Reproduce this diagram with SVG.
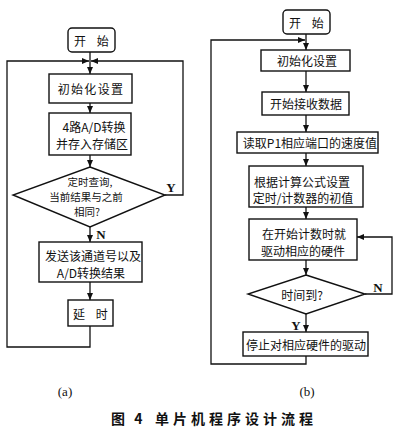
<svg xmlns="http://www.w3.org/2000/svg" width="400" height="432" viewBox="0 0 400 432">
<defs>
<marker id="ah" markerWidth="8" markerHeight="8" refX="7" refY="4" orient="auto" markerUnits="userSpaceOnUse">
<path d="M0,1 L7,4 L0,7 Z" fill="#111"/>
</marker>
</defs>
<style>
.b{fill:#fff;stroke:#111;stroke-width:1.4}
.l{fill:none;stroke:#111;stroke-width:1.3}
.t{font-family:"Noto Sans CJK SC","Noto Sans",sans-serif;font-size:12px;fill:#111;text-anchor:middle;dominant-baseline:central}
.d{font-size:10.5px}
.s{font-family:"Liberation Serif",serif;font-size:13px;fill:#111;text-anchor:middle;dominant-baseline:central;font-weight:bold}
.c{font-family:"Noto Sans CJK SC",sans-serif;font-size:14px;font-weight:bold;fill:#111;letter-spacing:3px}
</style>
<rect width="400" height="432" fill="#fff"/>
<g id="connectors">
<line class="l" x1="90" y1="52" x2="90" y2="74" marker-end="url(#ah)"/>
<polyline class="l" points="90,326 90,347 7,347 7,61 89,61" marker-end="url(#ah)"/>
<polyline class="l" points="165,195 183,195 183,61 91,61" marker-end="url(#ah)"/>
<line class="l" x1="90" y1="103" x2="90" y2="113" marker-end="url(#ah)"/>
<line class="l" x1="90" y1="155" x2="90" y2="167" marker-end="url(#ah)"/>
<line class="l" x1="90" y1="227" x2="90" y2="242" marker-end="url(#ah)"/>
<line class="l" x1="90" y1="282" x2="90" y2="300" marker-end="url(#ah)"/>
<line class="l" x1="306" y1="34" x2="306" y2="50" marker-end="url(#ah)"/>
<polyline class="l" points="306,356 306,364 211,364 211,40 305,40" marker-end="url(#ah)"/>
<line class="l" x1="306" y1="71" x2="306" y2="92" marker-end="url(#ah)"/>
<line class="l" x1="306" y1="115" x2="306" y2="132" marker-end="url(#ah)"/>
<line class="l" x1="306" y1="153" x2="306" y2="166" marker-end="url(#ah)"/>
<line class="l" x1="306" y1="207" x2="306" y2="219" marker-end="url(#ah)"/>
<line class="l" x1="306" y1="260" x2="306" y2="275" marker-end="url(#ah)"/>
<polyline class="l" points="365,294 392,294 392,237 357,237" marker-end="url(#ah)"/>
<line class="l" x1="306" y1="314" x2="306" y2="332" marker-end="url(#ah)"/>
<text class="s" x="171" y="187">Y</text>
<text class="s" x="101" y="234">N</text>
<text class="s" x="378" y="287">N</text>
<text class="s" x="296" y="325">Y</text>
</g>
<g id="a-start">
<rect class="b" x="68" y="28" width="47" height="24" rx="4"/>
<text class="t" x="91.5" y="40" xml:space="preserve">开    始</text>
</g>
<g id="a-init">
<rect class="b" x="49" y="74" width="83" height="29"/>
<text class="t" x="91" y="88.5" style="letter-spacing:1.3px">初始化设置</text>
</g>
<g id="a-ad">
<rect class="b" x="49" y="113" width="82" height="42"/>
<text class="t" x="94" y="126">4路A/D转换</text>
<text class="t" x="92" y="143">并存入存储区</text>
</g>
<g id="a-query">
<polygon class="b" points="90,167 165,195 90,227 13,195"/>
<text class="t d" x="90" y="181">定时查询,</text>
<text class="t d" x="86" y="196">当前结果与之前</text>
<text class="t d" x="87" y="211">相同?</text>
</g>
<g id="a-send">
<rect class="b" x="39" y="242" width="103" height="40"/>
<text class="t" x="93" y="255">发送该通道号以及</text>
<text class="t" x="91" y="272">A/D转换结果</text>
</g>
<g id="a-delay">
<rect class="b" x="68" y="300" width="45" height="26"/>
<text class="t" x="90.5" y="313" xml:space="preserve">延    时</text>
</g>
<g id="b-start">
<rect class="b" x="283" y="10" width="47" height="24" rx="4"/>
<text class="t" x="306.5" y="22" xml:space="preserve">开    始</text>
</g>
<g id="b-init">
<rect class="b" x="261" y="50" width="89" height="21"/>
<text class="t" x="307" y="60.5">初始化设置</text>
</g>
<g id="b-recv">
<rect class="b" x="262" y="92" width="87" height="23"/>
<text class="t" x="306" y="103.5">开始接收数据</text>
</g>
<g id="b-read">
<rect class="b" x="237" y="132" width="141" height="21"/>
<text class="t" x="310" y="142.5">读取P1相应端口的速度值</text>
</g>
<g id="b-calc">
<rect class="b" x="249" y="166" width="114" height="41"/>
<text class="t" x="302" y="181">根据计算公式设置</text>
<text class="t" x="303" y="197">定时/计数器的初值</text>
</g>
<g id="b-drive">
<rect class="b" x="249" y="219" width="108" height="41"/>
<text class="t" x="304" y="233">在开始计数时就</text>
<text class="t" x="303" y="250">驱动相应的硬件</text>
</g>
<g id="b-time">
<polygon class="b" points="306,275 365,294 306,314 248,294"/>
<text class="t" x="302" y="294">时间到?</text>
</g>
<g id="b-stop">
<rect class="b" x="243" y="332" width="125" height="24"/>
<text class="t" x="306" y="344">停止对相应硬件的驱动</text>
</g>
<text class="s" x="65" y="391" style="font-weight:normal">(a)</text>
<text class="s" x="307" y="391" style="font-weight:normal">(b)</text>
<text class="c" x="111" y="424" xml:space="preserve">图 4</text>
<text class="c" x="155" y="424" style="letter-spacing:4px">单片机程序设计流程</text>
</svg>
